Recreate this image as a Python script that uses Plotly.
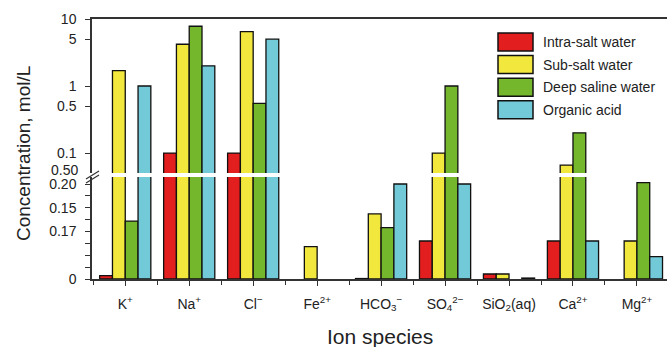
import numpy as np
import plotly.graph_objects as go
from plotly.subplots import make_subplots

# ---- data -------------------------------------------------------------
species = ["K<sup>+</sup>", "Na<sup>+</sup>", "Cl<sup>−</sup>", "Fe<sup>2+</sup>",
           "HCO<sub>3</sub><sup>−</sup>", "SO<sub>4</sub><sup>2−</sup>",
           "SiO<sub>2</sub>(aq)", "Ca<sup>2+</sup>", "Mg<sup>2+</sup>"]

# values drawn on the upper (log) segment of the broken axis
intra_salt_log = [None, 0.1, 0.1, None, None, None, None, None, None]
sub_salt_log = [1.7, 4.2, 6.5, None, None, 0.1, None, 0.066, None]
deep_saline_log = [None, 7.8, 0.55, None, None, 1.0, None, 0.2, None]
organic_acid_log = [1.0, 2.0, 5.0, None, None, None, None, None, None]

# values drawn on the lower (linear) segment of the broken axis
intra_salt_lin = [0.007, None, None, None, 0.001, 0.08, 0.0105, 0.08, None]
sub_salt_lin = [None, None, None, 0.068, 0.137, None, 0.0105, None, 0.08]
deep_saline_lin = [0.122, None, None, None, 0.108, None, None, None, 0.203]
organic_acid_lin = [None, None, None, None, 0.2, 0.2, 0.002, 0.08, 0.047]

series_names = ["Intra-salt water", "Sub-salt water", "Deep saline water", "Organic acid"]
series_colors = ["#E31E1E", "#F2E73C", "#74B62C", "#72C9D7"]
series_log = [intra_salt_log, sub_salt_log, deep_saline_log, organic_acid_log]
series_lin = [intra_salt_lin, sub_salt_lin, deep_saline_lin, organic_acid_lin]

# ---- layout geometry ----------------------------------------------------
W, H = 667, 347
PLOT_L, PLOT_T, PLOT_W, PLOT_H = 92, 19, 575, 260
BREAK_PX = 175                      # pixel row of the axis break
split = (PLOT_T + PLOT_H - BREAK_PX) / PLOT_H

LOG_RANGE = [np.log10(0.047), 1.0]
LIN_TOP = 0.219
FONT = "Liberation Sans, Arial, sans-serif"
AXIS_COLOR = "#333333"


def px_x(x):
    return (x - PLOT_L) / PLOT_W


def px_y(y):
    return (PLOT_T + PLOT_H - y) / PLOT_H


fig = make_subplots(rows=2, cols=1, shared_xaxes=True, vertical_spacing=0)
x = list(range(len(species)))

for name, color, vlog, vlin in zip(series_names, series_colors, series_log, series_lin):
    # lower segment: bars that continue into the upper segment fill it completely
    lower = [LIN_TOP * 2 if u is not None else l for u, l in zip(vlog, vlin)]
    for row, vals in ((1, vlog), (2, lower)):
        fig.add_trace(go.Bar(
            x=x, y=vals, name=name, showlegend=False,
            marker=dict(color=color, line=dict(color="#111111", width=1.3)),
        ), row=row, col=1)

fig.update_layout(
    width=W, height=H,
    margin=dict(l=PLOT_L, r=W - PLOT_L - PLOT_W, t=PLOT_T, b=H - PLOT_T - PLOT_H),
    barmode="group", bargap=0.2, bargroupgap=0,
    plot_bgcolor="white", paper_bgcolor="white",
    font=dict(family=FONT, size=14, color="#222222"),
)

xr = [-0.52, 8.47]
fig.update_xaxes(range=xr, showgrid=False, zeroline=False)
fig.update_layout(
    xaxis=dict(domain=[0, 1], side="top", showline=True, linecolor=AXIS_COLOR,
               linewidth=1.5, ticks="", showticklabels=False),
    xaxis2=dict(domain=[0, 1], showline=True, linecolor=AXIS_COLOR, linewidth=1.5,
                tickmode="array", tickvals=x, ticktext=species,
                ticks="outside", ticklen=5, tickwidth=1.2, tickcolor=AXIS_COLOR,
                ticklabelstandoff=6, tickfont=dict(size=14),
                minor=dict(ticks="outside", ticklen=4, tickwidth=1.2,
                           tickcolor=AXIS_COLOR, tick0=0.5, dtick=1)),
    yaxis=dict(domain=[split, 1], type="log", range=LOG_RANGE,
               showgrid=False, zeroline=False, showline=True,
               linecolor=AXIS_COLOR, linewidth=1.5,
               tickmode="array", tickvals=[0.1, 0.5, 1, 5, 10],
               ticktext=["0.1", "0.5", "1", "5", "10"],
               ticks="outside", ticklen=5, tickwidth=1.2, tickcolor=AXIS_COLOR,
               ticklabelstandoff=6, tickfont=dict(size=14)),
    yaxis2=dict(domain=[0, split], range=[0, LIN_TOP],
                showgrid=False, zeroline=False, showline=True,
                linecolor=AXIS_COLOR, linewidth=1.5,
                tickmode="array",
                tickvals=[i * 0.025 for i in range(9)],
                ticktext=["0", "", "", "", "0.17", "", "0.15", "", "0.20"],
                ticks="outside", ticklen=5, tickwidth=1.2, tickcolor=AXIS_COLOR,
                ticklabelstandoff=6, tickfont=dict(size=14)),
)

shapes = []
annotations = []

# white gap across the bars and the axis at the break
shapes.append(dict(type="rect", xref="paper", yref="paper", layer="above",
                   x0=px_x(88), x1=1.0, y0=px_y(177), y1=px_y(173),
                   fillcolor="white", line=dict(width=0)))
# break marks on the y axis
for dy in (0, 4):
    shapes.append(dict(type="line", xref="paper", yref="paper", layer="above",
                       x0=px_x(86), y0=px_y(179 + dy), x1=px_x(99), y1=px_y(171 + dy),
                       line=dict(color=AXIS_COLOR, width=1.2)))

annotations.append(dict(text="0.50", xref="paper", yref="paper",
                        x=px_x(80), y=px_y(170), xanchor="right", yanchor="middle",
                        showarrow=False, font=dict(size=14)))

# legend
for i, (name, color) in enumerate(zip(series_names, series_colors)):
    top = 33 + i * 22.6
    shapes.append(dict(type="rect", xref="paper", yref="paper", layer="above",
                       x0=px_x(498), x1=px_x(533), y0=px_y(top + 18), y1=px_y(top),
                       fillcolor=color, line=dict(color="#111111", width=1.5)))
    annotations.append(dict(text=name, xref="paper", yref="paper",
                            x=px_x(541), y=px_y(top + 9), xanchor="left",
                            yanchor="middle", showarrow=False, font=dict(size=14)))

# axis titles
annotations.append(dict(text="Concentration, mol/L", xref="paper", yref="paper",
                        x=px_x(24), y=px_y(154), textangle=-90,
                        xanchor="center", yanchor="middle", showarrow=False,
                        font=dict(size=19)))
annotations.append(dict(text="Ion species", xref="paper", yref="paper",
                        x=px_x(380), y=px_y(336), xanchor="center",
                        yanchor="middle", showarrow=False, font=dict(size=21)))

fig.update_layout(shapes=shapes, annotations=annotations)

fig.write_html("out.html")
